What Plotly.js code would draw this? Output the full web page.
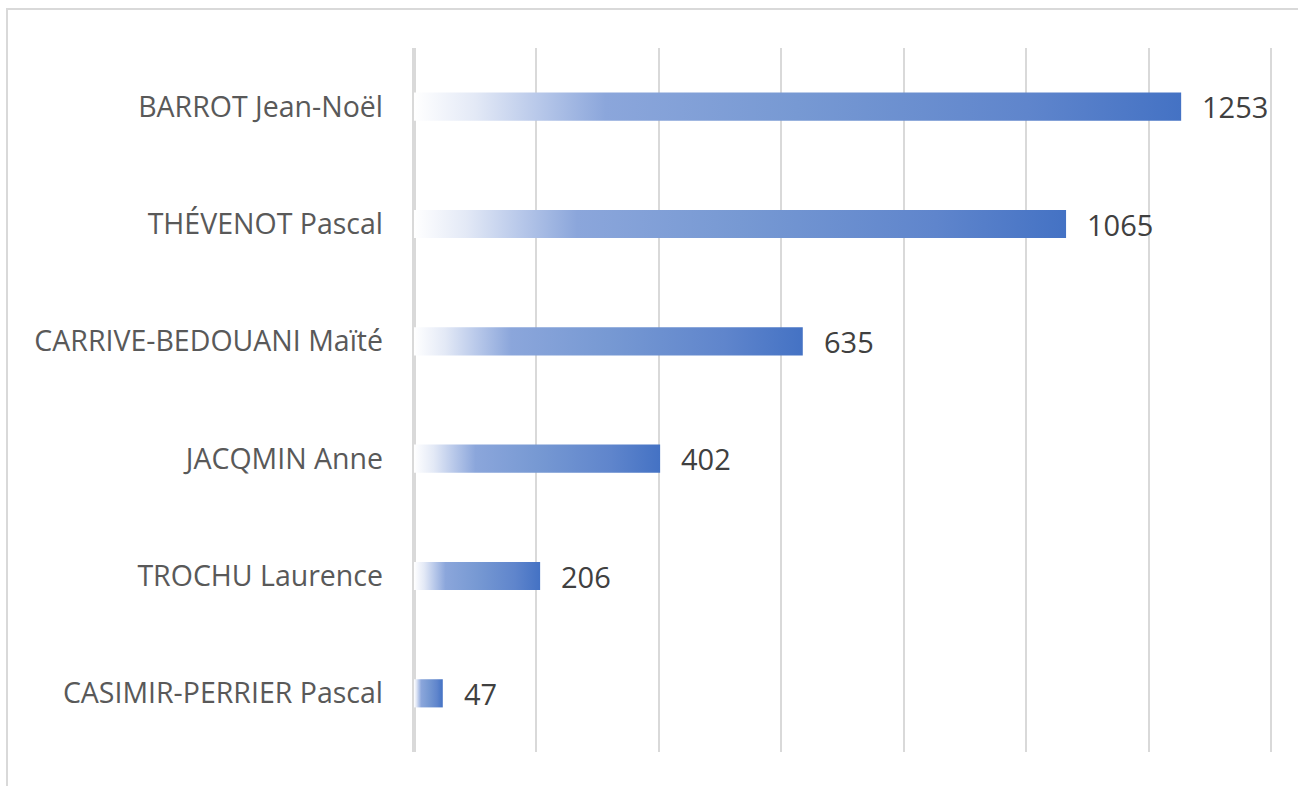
<!DOCTYPE html>
<html>
<head>
<meta charset="utf-8">
<script src="https://cdn.plot.ly/plotly-3.0.1.min.js"></script>
<style>
  html, body { margin: 0; padding: 0; background: #ffffff; overflow: hidden; }
  #wrap { position: relative; width: 1298px; height: 786px; }
  #frame { position: absolute; left: 6px; top: 8px; width: 1400px; height: 900px;
           border-top: 2px solid #d9d9d9; border-left: 2px solid #d9d9d9; pointer-events: none; }
  #chart { position: absolute; left: 0; top: 0; width: 1298px; height: 786px; }
</style>
</head>
<body>
<div id="wrap">
  <div id="chart"></div>
  <div id="frame"></div>
</div>
<script>
// Data (top to bottom as shown)
const candidates = ["BARROT Jean-Noël", "THÉVENOT Pascal", "CARRIVE-BEDOUANI Maïté", "JACQMIN Anne", "TROCHU Laurence", "CASIMIR-PERRIER Pascal"];
const votes = [1253, 1065, 635, 402, 206, 47];
const gridTicks = [0, 200, 400, 600, 800, 1000, 1200, 1400];

const halfBar = 0.12;
const gradient = [[0, "#ffffff"], [0.08, "#e3e9f6"], [0.16, "#b9c9ea"], [0.25, "#8ba6db"], [0.5, "#7799d3"], [0.8, "#5f85cc"], [1, "#4472C4"]];

const traces = [];
candidates.forEach(function (name, i) {
  const v = votes[i];
  traces.push({
    type: "scatter",
    mode: "lines",
    x: [0, v, v, 0, 0],
    y: [i - halfBar, i - halfBar, i + halfBar, i + halfBar, i - halfBar],
    fill: "toself",
    fillgradient: { type: "horizontal", colorscale: gradient },
    line: { width: 0, color: "rgba(0,0,0,0)" },
    hoverinfo: "skip",
    showlegend: false,
    name: name
  });
});

const annotations = candidates.map(function (name, i) {
  return {
    x: votes[i], y: i, xref: "x", yref: "y",
    text: String(votes[i]),
    showarrow: false, xanchor: "left", yanchor: "middle", xshift: 19,
    font: { family: "'Open Sans', sans-serif", size: 29, color: "#404040" }
  };
});

const layout = {
  width: 1298, height: 786,
  margin: { l: 414, r: 25, t: 48, b: 34, pad: 0 },
  paper_bgcolor: "#ffffff", plot_bgcolor: "#ffffff",
  showlegend: false,
  xaxis: {
    range: [0, 1403], tickvals: gridTicks, showticklabels: false,
    showgrid: true, gridcolor: "#d9d9d9", gridwidth: 2,
    zeroline: true, zerolinecolor: "#d9d9d9", zerolinewidth: 4,
    showline: false, ticks: "", fixedrange: true
  },
  yaxis: {
    range: [candidates.length - 0.5, -0.5],
    tickvals: candidates.map(function (c, i) { return i; }),
    ticktext: candidates,
    showgrid: false, zeroline: false, showline: false, ticks: "",
    ticklabelstandoff: 30,
    tickfont: { family: "'Open Sans', sans-serif", size: 28.5, color: "#595959" },
    fixedrange: true
  },
  annotations: annotations
};

Plotly.newPlot("chart", traces, layout, { staticPlot: true, displayModeBar: false });
</script>
</body>
</html>
